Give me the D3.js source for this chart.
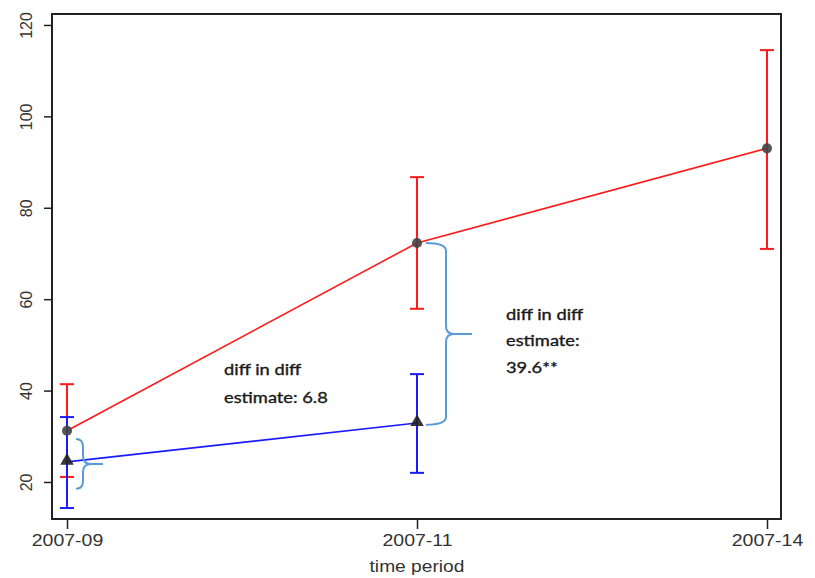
<!DOCTYPE html>
<html>
<head>
<meta charset="utf-8">
<script src="https://cdn.jsdelivr.net/npm/d3@7"></script>
<style>
  body { margin: 0; background: #fff; }
  svg { display: block; }
</style>
</head>
<body>
<svg id="chart" width="815" height="578"></svg>
<script>
// time periods on the x axis
const periods = ["2007-09", "2007-11", "2007-14"];

// red series (circles) with error bars
const redMean = [31.2, 72.3, 93.0];
const redLow = [21.1, 57.9, 71.0];
const redHigh = [41.4, 86.7, 114.5];

// blue series (triangles) with error bars
const blueMean = [24.4, 32.9];
const blueLow = [14.3, 22.0];
const blueHigh = [34.2, 43.6];

const yTicks = [20, 40, 60, 80, 100, 120];

// brace annotations: period, top value, bottom value, text lines
const braceAt = ["2007-09", "2007-11"];
const braceTop = [29.4, 72.3];
const braceBottom = [18.5, 32.5];
const noteLines = [["diff in diff", "estimate: 6.8"], ["diff in diff", "estimate:", "39.6**"]];

const margin = { top: 14, right: 34, bottom: 59, left: 52 };
const svg = d3.select("#chart");
const width = +svg.attr("width") - margin.left - margin.right;
const height = +svg.attr("height") - margin.top - margin.bottom;

const g = svg.append("g").attr("transform", `translate(${margin.left},${margin.top})`);

const x = d3.scalePoint().domain(periods).range([15, width - 14]);
const y = d3.scaleLinear().domain([11.9, 122.4]).range([height, 0]);

const tickFont = "'Liberation Sans', Arial, sans-serif";

// axes
const yAxis = g.append("g")
    .call(d3.axisLeft(y).tickValues(yTicks).tickSize(8).tickPadding(6));
yAxis.select(".domain").remove();
yAxis.selectAll("line").attr("stroke", "#222").attr("stroke-width", 1.5);
yAxis.selectAll("text")
    .attr("font-family", tickFont)
    .attr("font-size", 16)
    .attr("fill", "#333")
    .attr("text-anchor", "middle")
    .attr("dy", 0)
    .attr("transform", "translate(-20,0) rotate(-90)")
    .attr("x", 0)
    .attr("y", 0);

const xAxis = g.append("g")
    .attr("transform", `translate(0,${height})`)
    .call(d3.axisBottom(x).tickSize(10).tickPadding(6));
xAxis.select(".domain").remove();
xAxis.selectAll("line").attr("stroke", "#222").attr("stroke-width", 1.5);
xAxis.selectAll("text")
    .attr("font-family", tickFont)
    .attr("font-size", 16)
    .attr("fill", "#333")
    .attr("transform", "scale(1.22,1)");

g.append("text")
    .attr("x", x("2007-11"))
    .attr("y", height + 53)
    .attr("text-anchor", "middle")
    .attr("font-family", tickFont)
    .attr("font-size", 16)
    .attr("fill", "#333")
    .attr("transform", `translate(${x("2007-11")},0) scale(1.2,1) translate(${-x("2007-11")},0)`)
    .text("time period");

// frame
g.append("rect")
    .attr("width", width)
    .attr("height", height)
    .attr("fill", "none")
    .attr("stroke", "#222")
    .attr("stroke-width", 2);

// series helper
function drawSeries(means, lows, highs, color) {
    const rows = means.map((m, i) => ({ p: periods[i], m, lo: lows[i], hi: highs[i] }));
    g.append("path")
        .datum(rows)
        .attr("fill", "none")
        .attr("stroke", color)
        .attr("stroke-width", 1.6)
        .attr("d", d3.line().x(d => x(d.p)).y(d => y(d.m)));
    const bars = g.append("g").selectAll("g").data(rows).enter().append("g")
        .attr("stroke", color)
        .attr("stroke-width", 2);
    bars.append("line")
        .attr("x1", d => x(d.p)).attr("x2", d => x(d.p))
        .attr("y1", d => y(d.lo)).attr("y2", d => y(d.hi));
    bars.append("line")
        .attr("x1", d => x(d.p) - 7).attr("x2", d => x(d.p) + 7)
        .attr("y1", d => y(d.lo)).attr("y2", d => y(d.lo));
    bars.append("line")
        .attr("x1", d => x(d.p) - 7).attr("x2", d => x(d.p) + 7)
        .attr("y1", d => y(d.hi)).attr("y2", d => y(d.hi));
    return rows;
}

const redRows = drawSeries(redMean, redLow, redHigh, "#ff1a1a");
const blueRows = drawSeries(blueMean, blueLow, blueHigh, "#1a1aff");

// markers
g.append("g").selectAll("path").data(redRows).enter().append("path")
    .attr("d", d3.symbol(d3.symbolCircle, 80))
    .attr("transform", d => `translate(${x(d.p)},${y(d.m)})`)
    .attr("fill", "#444")
    .attr("opacity", 0.9);
g.append("g").selectAll("path").data(blueRows).enter().append("path")
    .attr("d", d3.symbol(d3.symbolTriangle, 80))
    .attr("transform", d => `translate(${x(d.p)},${y(d.m) - 1})`)
    .attr("fill", "#222")
    .attr("opacity", 0.9);

// braces
const braceShape = [{ inset: 9, depth: 16, tip: 36 }, { inset: 9, depth: 29, tip: 55 }];
function bracePath(cx, yt, yb, s) {
    const x0 = cx + s.inset, x1 = cx + s.depth, xt = cx + s.tip;
    const ym = (yt + yb) / 2;
    const r = Math.min(8, (yb - yt) / 6);
    return `M${x0},${yt} Q${x1},${yt} ${x1},${yt + r} V${ym - r} Q${x1},${ym} ${x1 + r},${ym} H${xt}` +
        ` M${x1 + r},${ym} Q${x1},${ym} ${x1},${ym + r} V${yb - r} Q${x1},${yb} ${x0},${yb}`;
}
braceAt.forEach((p, i) => {
    g.append("path")
        .attr("d", bracePath(x(p), y(braceTop[i]), y(braceBottom[i]), braceShape[i]))
        .attr("fill", "none")
        .attr("stroke", "#5b9bd5")
        .attr("stroke-width", 2);
});

// annotation text
const noteFont = "Lato, 'Open Sans', sans-serif";
const notePos = [{ x: 172, y: 361, lh: 28 }, { x: 454, y: 306, lh: 26.5 }];
noteLines.forEach((lines, i) => {
    const t = g.append("text")
        .attr("font-family", noteFont)
        .attr("font-size", 15)
        .attr("fill", "#1a1a1a")
        .attr("stroke", "#1a1a1a")
        .attr("stroke-width", 0.35)
        .attr("transform", `translate(${notePos[i].x},${notePos[i].y}) scale(1.22,1)`);
    lines.forEach((s, k) => {
        t.append("tspan").attr("x", 0).attr("y", k * notePos[i].lh).text(s);
    });
});
</script>
</body>
</html>
